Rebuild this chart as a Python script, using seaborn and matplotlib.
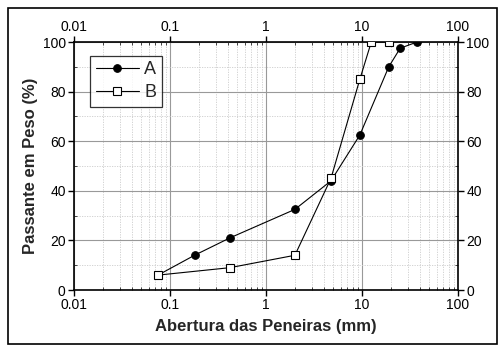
import matplotlib
matplotlib.use("Agg")
import matplotlib.pyplot as plt
import seaborn as sns
import pandas as pd
from matplotlib.ticker import LogLocator, FixedLocator, NullFormatter, FuncFormatter
from matplotlib.patches import Rectangle

sizes_a = [0.075, 0.18, 0.42, 2.0, 4.75, 9.5, 19.0, 25.0, 37.5]
pass_a = [6, 14, 21, 32.5, 44, 62.5, 90, 97.5, 100]
sizes_b = [0.075, 0.42, 2.0, 4.75, 9.5, 12.5, 19.0]
pass_b = [6, 9, 14, 45, 85, 100, 100]
series_names = ["A", "B"]
x_ticks = [0.01, 0.1, 1, 10, 100]
x_tick_labels = ["0.01", "0.1", "1", "10", "100"]
y_ticks = [0, 20, 40, 60, 80, 100]

df_a = pd.DataFrame({"x": sizes_a, "y": pass_a})
df_b = pd.DataFrame({"x": sizes_b, "y": pass_b})

sns.set_style("white")
plt.rcParams["font.family"] = ["Liberation Sans", "DejaVu Sans"]

fig = plt.figure(figsize=(5.01, 3.52), dpi=100)
ax = fig.add_axes([74/501, 1-290/352, (458-74)/501, (290-42)/352])

sns.lineplot(data=df_a, x="x", y="y", ax=ax, color="black", lw=0.8,
             marker="o", markersize=5.5, markerfacecolor="black",
             markeredgecolor="black", label=series_names[0], zorder=5)
sns.lineplot(data=df_b, x="x", y="y", ax=ax, color="black", lw=0.8,
             marker="s", markersize=5.5, markerfacecolor="white",
             markeredgecolor="black", markeredgewidth=0.8,
             label=series_names[1], zorder=6)
for ln in ax.get_lines():
    ln.set_clip_on(True)
    ln.set_clip_path(ax.patch)

ax.set_xscale("log")
ax.set_xlim(0.01, 100)
ax.set_ylim(0, 100)
ax.xaxis.set_major_locator(FixedLocator(x_ticks))
ax.xaxis.set_major_formatter(FuncFormatter(lambda v, p: x_tick_labels[x_ticks.index(v)] if v in x_ticks else ""))
ax.xaxis.set_minor_locator(LogLocator(base=10, subs=range(2, 10)))
ax.xaxis.set_minor_formatter(NullFormatter())
ax.yaxis.set_major_locator(FixedLocator(y_ticks))
ax.yaxis.set_minor_locator(FixedLocator([10, 30, 50, 70, 90]))

ax.grid(which="major", color="#999999", lw=0.8, ls="-")
ax.grid(which="minor", color="#cccccc", lw=0.6, ls=(0, (1.5, 1.5)))
ax.set_axisbelow(True)

for s in ax.spines.values():
    s.set_color("black")
    s.set_linewidth(1.2)
    s.set_visible(True)

ax.tick_params(which="major", direction="out", length=4, width=1, colors="black",
               labelsize=10, top=True, right=True, labeltop=True, labelright=True, bottom=True, left=True)
ax.tick_params(which="minor", direction="in", length=2, width=0.6, top=True, right=True, bottom=True, left=True)
ax.tick_params(axis="both", which="major", pad=2)

ax.set_xlabel("Abertura das Peneiras (mm)", fontsize=12, fontweight="bold", labelpad=5)
ax.set_ylabel("Passante em Peso (%)", fontsize=12, fontweight="bold", labelpad=3)

leg = ax.legend(loc="upper left", bbox_to_anchor=(0.042, 0.945), fontsize=13,
                frameon=True, fancybox=False, edgecolor="black", handlelength=2.4,
                borderpad=0.3, labelspacing=0.35, handletextpad=0.3, borderaxespad=0)
leg.get_frame().set_linewidth(0.9)

fig.patches.append(Rectangle((8/501, 8/352), (497-8)/501, (344-8)/352, transform=fig.transFigure,
                             fill=False, edgecolor="black", lw=1.2))

fig.savefig("out.png", dpi=100)
